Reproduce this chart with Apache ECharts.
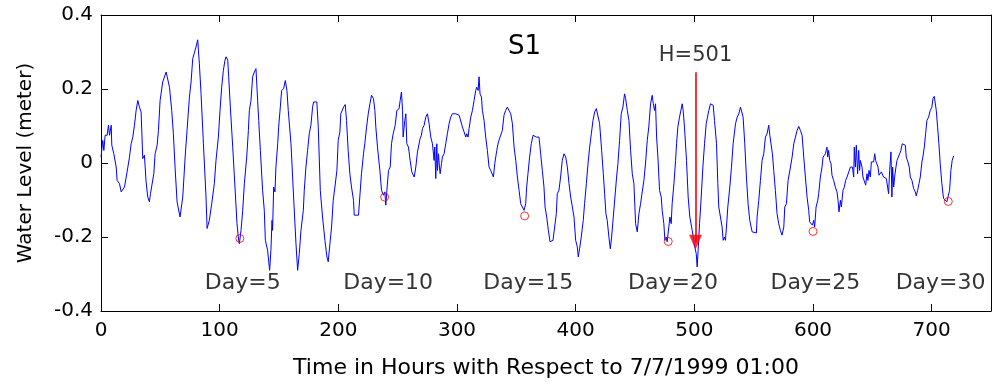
<!DOCTYPE html>
<html>
<head>
<meta charset="utf-8">
<script src="https://cdn.jsdelivr.net/npm/echarts@6/dist/echarts.min.js"></script>
<style>
html,body{margin:0;padding:0;background:#fff;}
#chart{width:993px;height:385px;}
</style>
</head>
<body>
<div id="chart"></div>
<script>
// Water level time series [hour, level (m)]
const waterLevel = [
[0,0.016],[1.5,0.061],[2.4,0.034],[3.5,0.075],[5.2,0.075],[6.3,0.102],[7.2,0.075],[8.6,0.102],[9.1,0.048],[10.8,0.025],
[12.8,-0.011],[13.6,-0.047],[15.6,-0.056],[17.0,-0.078],[18.4,-0.083],[19.8,-0.065],[21.2,-0.060],[22.0,-0.024],[24.0,0.016],[25.4,0.052],
[26.8,0.070],[28.2,0.102],[29.6,0.142],[31.0,0.169],[32.4,0.151],[33.8,0.138],[35.2,0.012],[36.6,0.021],[38.0,-0.051],[39.4,-0.092],
[40.8,-0.105],[41.7,-0.083],[42.8,-0.083],[44.5,-0.029],[45.6,0.025],[47.3,0.048],[48.4,0.088],[49.8,0.169],[51.2,0.174],[52.0,0.219],
[54.9,0.246],[56.3,0.250],[57.7,0.205],[59.6,0.142],[61.0,0.079],[62.4,-0.011],[64.1,-0.105],[65.2,-0.110],[66.6,-0.146],[68.9,-0.092],
[70.9,0.016],[72.5,0.088],[74.5,0.178],[75.9,0.219],[77.3,0.282],[78.7,0.287],[80.1,0.314],[81.5,0.333],[82.1,0.305],[82.9,0.268],
[84.3,0.188],[86.3,0.052],[88.5,-0.092],[89.4,-0.177],[91.3,-0.155],[93.3,-0.110],[95.5,-0.056],[96.9,0.007],[98.9,0.070],[100.3,0.142],
[101.7,0.205],[103.1,0.250],[104.5,0.278],[105.4,0.287],[106.8,0.278],[107.6,0.233],[109.0,0.151],[111.0,0.043],[112.9,-0.065],[114.6,-0.164],
[116.0,-0.209],[116.6,-0.218],[118.0,-0.182],[119.4,-0.128],[120.8,-0.056],[122.8,0.016],[124.2,0.088],[125.0,0.142],[126.4,0.169],[127.8,0.233],
[129.2,0.246],[130.6,0.255],[132.0,0.169],[132.9,0.115],[134.3,0.034],[136.2,-0.074],[137.6,-0.128],[138.5,-0.209],[139.0,-0.204],[140.4,-0.236],
[141.3,-0.231],[142.1,-0.290],[143.2,-0.236],[144.1,-0.155],[144.6,-0.182],[145.5,-0.065],[146.6,-0.078],[147.4,-0.011],[148.9,0.052],[149.7,0.097],
[151.1,0.151],[152.2,0.196],[153.9,0.201],[155.3,0.223],[156.7,0.196],[157.8,0.142],[160.1,0.052],[162.3,-0.092],[164.3,-0.218],[165.7,-0.290],
[167.1,-0.245],[168.5,-0.182],[170.5,-0.128],[171.3,-0.074],[172.7,-0.011],[174.1,0.034],[175.5,0.079],[176.9,0.102],[178.3,0.151],[179.2,0.165],
[180.3,0.169],[181.9,0.165],[183.1,0.097],[184.8,-0.074],[186.7,-0.146],[188.7,-0.209],[190.4,-0.254],[191.5,-0.267],[192.9,-0.218],[194.3,-0.173],
[195.7,-0.101],[197.1,-0.065],[198.8,-0.020],[199.9,0.061],[201.3,0.084],[202.1,0.133],[204.4,0.151],[205.8,0.158],[206.9,0.115],[208.3,0.034],
[209.7,-0.029],[211.1,-0.065],[212.8,-0.101],[213.4,-0.141],[217.0,-0.141],[218.1,-0.092],[219.5,-0.029],[221.2,0.025],[222.3,0.052],[223.8,0.097],
[225.2,0.133],[226.6,0.160],[228.0,0.183],[229.6,0.174],[230.8,0.142],[231.6,0.097],[233.0,0.043],[235.0,-0.020],[236.4,-0.074],[238.1,-0.087],
[239.2,-0.078],[240.0,-0.114],[240.9,-0.074],[242.3,-0.020],[243.7,-0.011],[244.8,0.052],[246.2,0.079],[247.9,0.102],[249.3,0.142],[251.2,0.147],
[252.1,0.169],[253.2,0.192],[254.1,0.142],[254.6,0.070],[256.0,0.115],[256.9,0.133],[257.7,0.052],[259.1,0.043],[260.5,0.007],[261.9,-0.024],
[263.3,-0.029],[263.9,-0.038],[265.3,-0.011],[266.7,0.030],[267.8,0.025],[268.9,0.066],[270.0,0.075],[270.9,0.093],[272.3,0.102],[273.7,0.124],
[275.1,0.133],[276.5,0.106],[277.9,0.070],[279.3,0.052],[280.7,0.007],[281.3,0.043],[282.1,-0.042],[283.0,0.052],[283.5,-0.020],[284.4,0.025],
[285.2,-0.011],[285.8,-0.029],[286.9,-0.002],[287.7,0.016],[289.1,0.025],[290.5,0.052],[291.9,0.079],[293.3,0.106],[294.7,0.124],[296.1,0.133],
[297.6,0.138],[299.0,0.133],[300.4,0.138],[301.8,0.129],[303.2,0.133],[304.6,0.097],[306.0,0.093],[307.4,0.070],[308.2,0.079],[309.3,0.070],
[310.2,0.093],[311.6,0.124],[313.0,0.142],[314.4,0.169],[315.8,0.196],[316.6,0.205],[317.8,0.196],[318.6,0.233],[319.4,0.187],[320.6,0.178],
[321.4,0.142],[322.8,0.115],[324.2,0.070],[325.6,0.034],[327.0,-0.011],[328.4,-0.020],[329.8,-0.024],[330.7,-0.038],[331.8,-0.002],[333.5,0.034],
[334.9,0.057],[336.3,0.070],[338.2,0.088],[339.6,0.129],[341.0,0.142],[342.4,0.151],[343.8,0.151],[345.3,0.133],[346.7,0.106],[348.1,0.043],
[349.5,0.007],[350.9,-0.038],[352.3,-0.074],[353.7,-0.110],[355.1,-0.119],[356.5,-0.128],[357.3,-0.132],[357.9,-0.110],[358.7,-0.065],[359.8,-0.029],
[361.2,0.016],[362.6,0.052],[364.1,0.075],[365.5,0.079],[366.9,0.070],[368.3,0.075],[369.1,0.070],[370.5,0.025],[371.9,-0.020],[373.3,-0.065],
[374.2,-0.119],[375.6,-0.146],[377.0,-0.182],[378.4,-0.213],[379.5,-0.218],[380.9,-0.209],[382.3,-0.173],[383.7,-0.137],[384.5,-0.083],[385.9,-0.074],
[387.3,-0.038],[388.7,0.007],[390.2,0.025],[391.6,0.016],[393.0,-0.011],[394.4,-0.056],[395.8,-0.092],[397.2,-0.119],[398.6,-0.146],[400.0,-0.209],
[401.4,-0.227],[402.2,-0.254],[403.3,-0.232],[404.7,-0.200],[406.4,-0.155],[407.5,-0.110],[409.0,-0.056],[410.4,-0.002],[411.8,0.043],[413.2,0.079],
[414.6,0.115],[416.0,0.138],[417.4,0.147],[418.8,0.142],[420.2,0.106],[421.9,0.034],[423.3,-0.029],[424.4,-0.083],[425.5,-0.137],[426.6,-0.155],
[428.0,-0.200],[429.2,-0.232],[430.3,-0.200],[431.7,-0.146],[433.1,-0.092],[434.5,-0.038],[435.6,-0.002],[437.0,0.061],[438.4,0.133],[439.8,0.151],
[441.2,0.187],[442.1,0.174],[443.5,0.142],[444.9,0.115],[446.3,0.034],[447.7,-0.029],[449.1,-0.056],[450.5,-0.164],[451.9,-0.186],[453.3,-0.137],
[454.7,-0.110],[456.1,-0.078],[457.5,-0.047],[458.9,0.000],[460.3,0.060],[461.7,0.100],[463.1,0.160],[464.5,0.183],[465.4,0.160],[466.5,0.142],
[467.3,0.160],[468.2,0.070],[469.3,0.016],[470.7,-0.074],[472.1,-0.092],[472.9,-0.128],[474.3,-0.164],[475.2,-0.209],[476.3,-0.200],[477.1,-0.213],
[478.0,-0.209],[478.8,-0.164],[479.4,-0.146],[480.5,-0.164],[481.3,-0.110],[482.8,-0.056],[484.2,0.007],[485.0,0.052],[486.1,0.097],[487.5,0.124],
[488.4,0.138],[489.8,0.160],[490.6,0.142],[491.7,0.097],[493.4,0.007],[494.8,-0.092],[496.2,-0.146],[498.2,-0.182],[499.6,-0.209],[500.4,-0.227],
[501.6,-0.245],[502.4,-0.281],[503.2,-0.236],[504.4,-0.164],[505.8,-0.092],[507.2,-0.011],[508.6,0.052],[510.0,0.106],[512.2,0.142],[513.6,0.160],
[515.0,0.165],[515.9,0.156],[517.0,0.115],[518.7,0.052],[519.8,-0.056],[520.6,-0.119],[522.0,-0.146],[523.4,-0.173],[524.3,-0.209],[525.4,-0.200],
[526.2,-0.209],[527.1,-0.173],[528.2,-0.119],[529.9,-0.065],[531.3,-0.011],[532.7,0.052],[534.7,0.106],[536.1,0.124],[537.5,0.133],[538.9,0.151],
[540.3,0.151],[541.1,0.124],[542.5,0.052],[543.9,-0.038],[545.3,-0.110],[546.7,-0.155],[548.7,-0.186],[550.1,-0.191],[552.3,-0.189],[552.9,-0.146],
[554.3,-0.101],[555.7,-0.047],[557.1,0.007],[558.5,0.025],[559.9,0.070],[561.3,0.079],[562.7,0.102],[563.6,0.075],[564.7,0.075],[565.8,0.025],
[566.9,-0.020],[568.3,-0.074],[569.7,-0.137],[571.1,-0.164],[572.5,-0.182],[573.9,-0.195],[575.4,-0.173],[576.2,-0.119],[577.6,-0.110],[579.0,-0.047],
[581.0,-0.011],[582.4,0.016],[583.8,0.052],[585.2,0.070],[586.6,0.088],[588.0,0.099],[589.4,0.088],[590.8,0.075],[592.2,0.016],[593.6,-0.038],
[595.0,-0.092],[596.4,-0.128],[597.2,-0.159],[598.4,-0.155],[599.5,-0.168],[600.6,-0.155],[601.4,-0.173],[602.6,-0.119],[604.0,-0.101],[604.8,-0.083],
[606.2,-0.038],[607.6,-0.011],[608.5,0.016],[609.6,0.021],[610.4,0.025],[611.8,0.043],[612.4,0.016],[613.2,0.034],[614.1,0.007],[615.2,-0.002],
[616.0,-0.033],[617.4,-0.047],[618.8,-0.065],[620.2,-0.078],[621.1,-0.101],[621.9,-0.132],[623.1,-0.101],[623.9,-0.119],[624.7,-0.092],[625.3,-0.074],
[626.4,-0.065],[627.5,-0.047],[628.7,-0.038],[630.1,-0.033],[631.5,-0.011],[632.3,-0.006],[633.2,-0.011],[634.3,-0.038],[634.8,0.043],[635.7,-0.011],
[636.5,0.048],[637.6,-0.029],[638.5,0.034],[639.3,-0.020],[639.9,0.007],[641.3,-0.011],[642.1,-0.038],[643.5,-0.042],[644.4,-0.060],[645.5,-0.029],
[646.3,-0.047],[647.2,-0.020],[648.3,-0.038],[649.2,0.003],[650.0,-0.002],[651.1,0.003],[652.0,0.025],[652.8,0.007],[653.9,0.003],[654.8,-0.011],
[655.6,-0.033],[656.7,-0.033],[657.6,-0.024],[658.4,-0.029],[659.5,-0.038],[660.4,-0.042],[661.8,-0.042],[662.9,-0.047],[663.7,-0.083],[664.6,-0.020],
[665.7,0.030],[666.5,-0.092],[667.1,-0.011],[668.0,-0.065],[668.8,-0.038],[669.9,-0.011],[670.8,0.007],[671.9,0.016],[673.0,0.025],[674.1,0.034],
[675.2,0.052],[676.4,0.050],[677.8,0.048],[678.6,0.016],[680.0,0.003],[681.1,-0.011],[682.0,-0.038],[683.4,-0.047],[684.8,-0.069],[686.2,-0.078],
[687.0,-0.089],[688.2,-0.074],[689.3,-0.056],[690.4,-0.038],[691.8,0.003],[692.6,0.016],[693.8,0.043],[694.9,0.079],[696.0,0.115],[697.4,0.124],
[698.8,0.142],[700.2,0.151],[701.1,0.174],[702.2,0.180],[703.0,0.180],[703.9,0.142],[705.0,0.097],[706.1,0.052],[707.2,-0.002],[708.6,-0.056],
[710.0,-0.096],[711.4,-0.101],[712.8,-0.105],[714.2,-0.105],[715.1,-0.074],[716.2,-0.020],[717.3,0.007],[718.5,0.019]
];

// Daily low-water markers (red circles)
const markHours  = [117, 239, 357, 478, 600, 714];
const markLevels = [-0.204, -0.092, -0.143, -0.212, -0.185, -0.104];

// Day annotations
const dayTexts  = ['Day=5', 'Day=10', 'Day=15', 'Day=20', 'Day=25', 'Day=30'];
const dayHours  = [119.5, 242, 360, 482, 602, 707.5];
const dayLevel  = -0.325;

// H=501 marker
const hMarkHour = 501;
const hMarkText = 'H=501';
const hLineTop = 0.245;
const hArrowLevel = -0.214;

// Axis ticks
const xTicks = { min: 0, max: 750, step: 100 };
const yTicks = { min: -0.4, max: 0.4, step: 0.2 };

const FONT = 'DejaVu Sans';
const RED = '#ff0000';
const chart = echarts.init(document.getElementById('chart'), null, { renderer: 'canvas' });

const axisBase = {
  axisLine: { show: true, onZero: false, lineStyle: { color: '#000', width: 1 } },
  axisTick: { show: true, inside: true, length: 7, lineStyle: { color: '#000', width: 1 } },
  splitLine: { show: false }
};

chart.setOption({
  animation: false,
  backgroundColor: '#fff',
  title: {
    text: 'S1', left: 508, top: 34, padding: 0,
    textStyle: { fontFamily: FONT, fontSize: 26, fontWeight: 'normal', color: '#000' }
  },
  grid: { left: 101, right: 2, top: 15, bottom: 74, containLabel: false },
  xAxis: [
    Object.assign({}, axisBase, {
      type: 'value', min: xTicks.min, max: xTicks.max, interval: xTicks.step, position: 'bottom',
      axisLabel: { showMaxLabel: false, color: '#000', fontFamily: FONT, fontSize: 20, margin: 10 },
      name: 'Time in Hours with Respect to 7/7/1999 01:00',
      nameLocation: 'middle', nameGap: 46,
      nameTextStyle: { fontFamily: FONT, fontSize: 22, color: '#000' }
    }),
    Object.assign({}, axisBase, {
      type: 'value', min: xTicks.min, max: xTicks.max, interval: xTicks.step, position: 'top',
      axisLabel: { show: false }
    })
  ],
  yAxis: [
    Object.assign({}, axisBase, {
      type: 'value', min: yTicks.min, max: yTicks.max, interval: yTicks.step, position: 'left',
      axisLabel: { color: '#000', fontFamily: FONT, fontSize: 20, margin: 8 },
      name: 'Water Level (meter)', nameLocation: 'middle', nameGap: 65, nameRotate: 90,
      nameTextStyle: { fontFamily: FONT, fontSize: 20, color: '#000' }
    }),
    Object.assign({}, axisBase, {
      type: 'value', min: yTicks.min, max: yTicks.max, interval: yTicks.step, position: 'right',
      axisLabel: { show: false }
    })
  ],
  series: [
    {
      type: 'line', data: waterLevel, showSymbol: false, symbol: 'none', color: '#0000ff',
      lineStyle: { color: '#0000ff', width: 1 }, z: 3
    },
    {
      type: 'scatter', data: markHours.map((h, i) => [h, markLevels[i]]),
      symbol: 'circle', symbolSize: 8, color: RED,
      itemStyle: { color: 'rgba(0,0,0,0)', borderColor: RED, borderWidth: 1 }, z: 4
    },
    {
      type: 'scatter', data: [[hMarkHour, hArrowLevel]], color: RED,
      symbol: 'triangle', symbolRotate: 180, symbolSize: [13, 15],
      itemStyle: { color: RED }, z: 5,
      markLine: {
        silent: true, symbol: ['none', 'none'], animation: false,
        label: { show: false },
        lineStyle: { color: RED, width: 1.6, type: 'solid', opacity: 1 },
        emphasis: { disabled: true },
        data: [[{ coord: [hMarkHour, hLineTop] }, { coord: [hMarkHour, hArrowLevel] }]]
      }
    },
    {
      type: 'scatter', data: [[hMarkHour, hLineTop]], symbolSize: 0,
      label: { show: true, position: 'top', distance: 6, formatter: hMarkText,
        fontFamily: FONT, fontSize: 21, color: '#000' }, z: 5
    },
    {
      type: 'scatter', data: dayHours.map((h, i) => ({ value: [h, dayLevel], name: dayTexts[i] })),
      symbolSize: 0,
      label: { show: true, position: 'inside', formatter: p => p.name,
        fontFamily: FONT, fontSize: 22, color: '#000', textBorderWidth: 0 }, z: 5
    }
  ]
});
</script>
</body>
</html>
